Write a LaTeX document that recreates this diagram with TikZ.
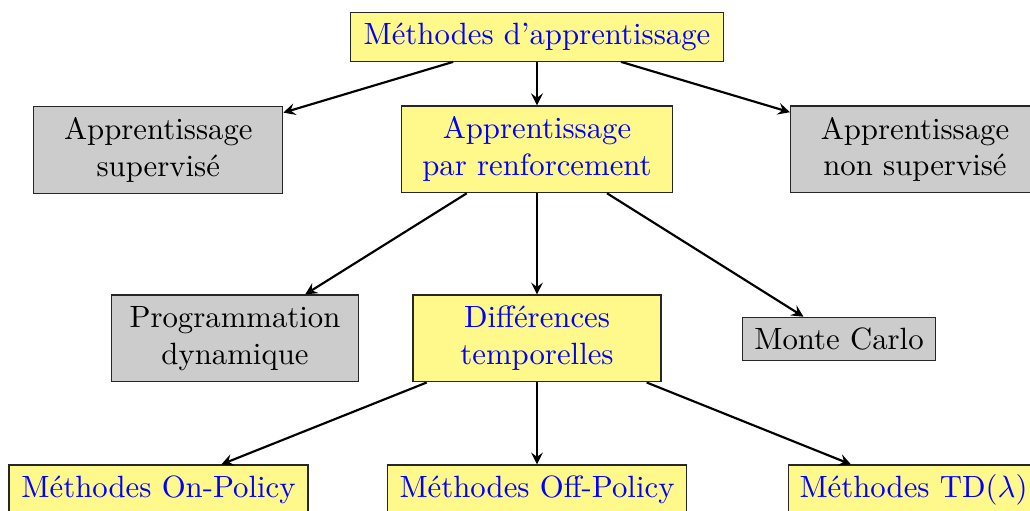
\documentclass[tikz,border=0pt]{standalone}
\usepackage{fontspec}
\begin{document}
\begin{tikzpicture}[x=0.325pt,y=-0.325pt,
  box/.style={draw=black!85, line width=0.4pt, inner sep=0pt, align=center},
  rl/.style={box, fill=yellow!45, text=blue},
  gr/.style={box, fill=gray!40, text=black},
  arr/.style={-stealth, line width=0.7pt}]
\useasboundingbox (0,0) rectangle (1030,511);
\node[rl, minimum width=121.1pt, minimum height=15.9pt] (top) at (537,36.8) {Méthodes d’apprentissage};
\node[gr, minimum width=80.9pt, minimum height=28.4pt] (sup) at (158.3,150) {Apprentissage\\supervisé};
\node[rl, minimum width=88pt, minimum height=28.2pt] (renf) at (537,149.3) {Apprentissage\\par renforcement};
\node[gr, minimum width=80.9pt, minimum height=28.2pt] (nonsup) at (915,149.5) {Apprentissage\\non supervisé};
\node[gr, minimum width=80.5pt, minimum height=28.2pt] (prog) at (235,338.4) {Programmation\\dynamique};
\node[rl, minimum width=80.6pt, minimum height=28.2pt] (diff) at (537,338.5) {Différences\\temporelles};
\node[gr, minimum width=62.6pt, minimum height=14.1pt] (mc) at (839,339) {Monte Carlo};
\node[rl, minimum width=97.2pt, minimum height=15.9pt] (on) at (158.5,489.5) {Méthodes On-Policy};
\node[rl, minimum width=97.3pt, minimum height=15.9pt] (off) at (537,489.5) {Méthodes Off-Policy};
\node[rl, minimum width=81.4pt, minimum height=15.9pt] (td) at (913.5,489.5) {Méthodes TD($\lambda$)};
\draw[arr] (top) -- (sup);
\draw[arr] (top) -- (renf);
\draw[arr] (top) -- (nonsup);
\draw[arr] (renf) -- (prog);
\draw[arr] (renf) -- (diff);
\draw[arr] (renf) -- (mc);
\draw[arr] (diff) -- (on);
\draw[arr] (diff) -- (off);
\draw[arr] (diff) -- (td);
\end{tikzpicture}
\end{document}
